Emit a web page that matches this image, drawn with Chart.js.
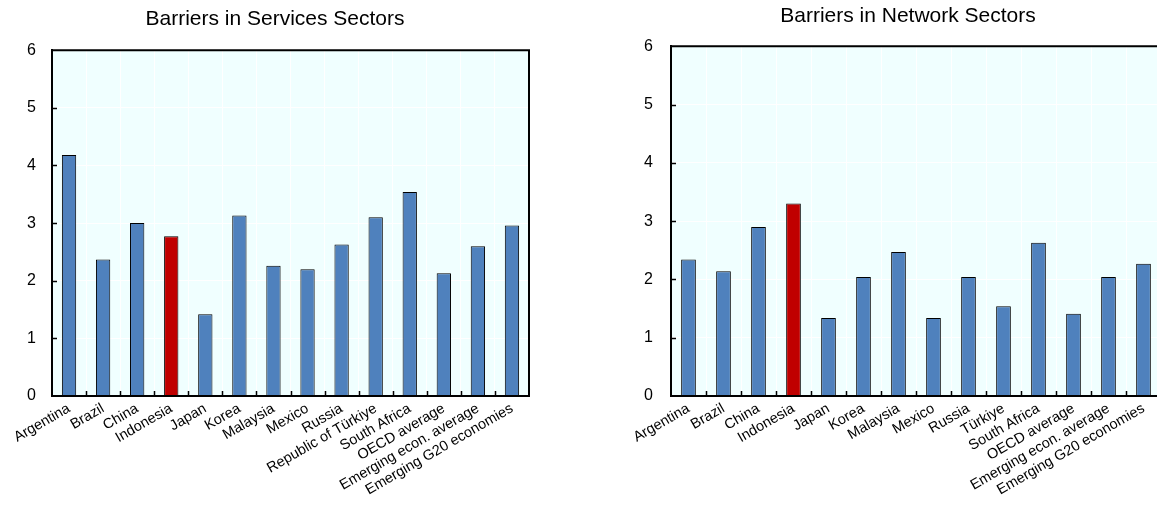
<!DOCTYPE html>
<html>
<head>
<meta charset="utf-8">
<script src="https://cdn.jsdelivr.net/npm/chart.js@4.4.1/dist/chart.umd.min.js"></script>
<style>
  html, body { margin: 0; padding: 0; background: #fff; overflow: hidden; width: 1157px; height: 509px; }
  canvas { position: absolute; top: 0; }
  #servicesChart { left: 0; }
  #networkChart { left: 600px; }
</style>
</head>
<body>
<canvas id="servicesChart" width="575" height="509"></canvas>
<canvas id="networkChart" width="561" height="509"></canvas>
<script>
// Datos
const servicesLabels = ['Argentina', 'Brazil', 'China', 'Indonesia', 'Japan', 'Korea', 'Malaysia', 'Mexico',
    'Russia', 'Republic of Türkiye', 'South Africa', 'OECD average', 'Emerging econ. average', 'Emerging G20 economies'];
const networkLabels = ['Argentina', 'Brazil', 'China', 'Indonesia', 'Japan', 'Korea', 'Malaysia', 'Mexico',
    'Russia', 'Türkiye', 'South Africa', 'OECD average', 'Emerging econ. average', 'Emerging G20 economies'];
const servicesValues = [4.18, 2.37, 3.00, 2.77, 1.42, 3.13, 2.26, 2.20, 2.63, 3.10, 3.54, 2.13, 2.60, 2.96];
const networkValues = [2.34, 2.14, 2.90, 3.30, 1.34, 2.04, 2.47, 1.34, 2.04, 1.54, 2.63, 1.41, 2.04, 2.27];
const yTicks = [0, 1, 2, 3, 4, 5, 6];
const highlight = 'Indonesia';

const FONT = "'Liberation Sans', Arial, sans-serif";

function barColors(labels) {
    return labels.map(l => l === highlight ? '#C00000' : '#4F81BD');
}

// fondo, marco y marcas hacia adentro
const framePlugin = {
    id: 'frame',
    afterLayout(chart) {
        const dx = chart.options.plugins.frame.titleShift || 0;
        if (chart.titleBlock && dx) {
            chart.titleBlock.left += dx;
            chart.titleBlock.right += dx;
        }
    },
    beforeDraw(chart) {
        const a = chart.chartArea, ctx = chart.ctx;
        ctx.save();
        ctx.fillStyle = '#F0FFFF';
        ctx.fillRect(a.left, a.top, a.right - a.left, a.bottom - a.top);
        ctx.restore();
    },
    afterDraw(chart) {
        const a = chart.chartArea, ctx = chart.ctx;
        const x = chart.scales.x, y = chart.scales.y;
        ctx.save();
        ctx.strokeStyle = '#000';
        ctx.lineWidth = 1.5;
        ctx.beginPath();
        y.ticks.forEach((t, i) => {
            const py = Math.round(y.getPixelForTick(i)) + 0.5;
            if (py > a.top + 2 && py < a.bottom - 2) {
                ctx.moveTo(a.left, py);
                ctx.lineTo(a.left + 5, py);
            }
        });
        for (let i = 1; i < x.ticks.length; i++) {
            const px = Math.round((x.getPixelForTick(i - 1) + x.getPixelForTick(i)) / 2) + 0.5;
            ctx.moveTo(px, a.bottom);
            ctx.lineTo(px, a.bottom - 5);
        }
        ctx.stroke();
        ctx.lineWidth = 2;
        ctx.beginPath();
        ctx.moveTo(a.left, a.top);
        ctx.lineTo(a.right, a.top);
        ctx.lineTo(a.right, a.bottom);
        ctx.lineTo(a.left, a.bottom);
        ctx.lineTo(a.left, a.top);
        ctx.stroke();
        ctx.restore();
    }
};

function makeChart(id, title, labels, values, opts) {
    const ctx = document.getElementById(id).getContext('2d');
    return new Chart(ctx, {
        type: 'bar',
        data: {
            labels: labels,
            datasets: [{
                data: values,
                backgroundColor: barColors(labels),
                borderColor: '#000',
                borderWidth: 1,
                categoryPercentage: 1,
                barPercentage: 0.42
            }]
        },
        options: {
            responsive: false,
            animation: false,
            layout: { padding: { left: opts.padLeft, right: opts.padRight, top: 0, bottom: 0 } },
            plugins: {
                legend: { display: false },
                tooltip: { enabled: false },
                frame: { titleShift: opts.titleShift },
                title: {
                    display: true,
                    text: title,
                    color: '#000',
                    font: { family: FONT, size: 21, weight: 'normal' },
                    padding: { top: opts.titleTop, bottom: opts.titleBottom }
                }
            },
            scales: {
                x: {
                    grid: { color: '#FFFFFF', lineWidth: 1, drawTicks: false, offset: true },
                    border: { color: '#000', width: 2 },
                    ticks: {
                        autoSkip: false,
                        maxRotation: 30,
                        minRotation: 30,
                        padding: 4,
                        color: '#000',
                        font: { family: FONT, size: 14.5 }
                    },
                    afterFit: s => { s.height = 113; }
                },
                y: {
                    min: yTicks[0],
                    max: yTicks[yTicks.length - 1],
                    grid: { color: '#FFFFFF', lineWidth: 1, drawTicks: false },
                    border: { color: '#000', width: 2 },
                    ticks: {
                        stepSize: 1,
                        padding: opts.yPad,
                        color: '#000',
                        font: { family: FONT, size: 16 }
                    },
                    afterFit: s => { s.width = opts.yWidth; }
                }
            }
        },
        plugins: [framePlugin]
    });
}

makeChart('servicesChart', 'Barriers in Services Sectors', servicesLabels, servicesValues,
    { padLeft: 21, padRight: 46, yWidth: 31, yPad: 16, titleTop: 7, titleBottom: 18, titleShift: 0 });
makeChart('networkChart', 'Barriers in Network Sectors', networkLabels, networkValues,
    { padLeft: 25, padRight: 0, yWidth: 46, yPad: 18, titleTop: 4, titleBottom: 17, titleShift: 15 });
</script>
</body>
</html>
